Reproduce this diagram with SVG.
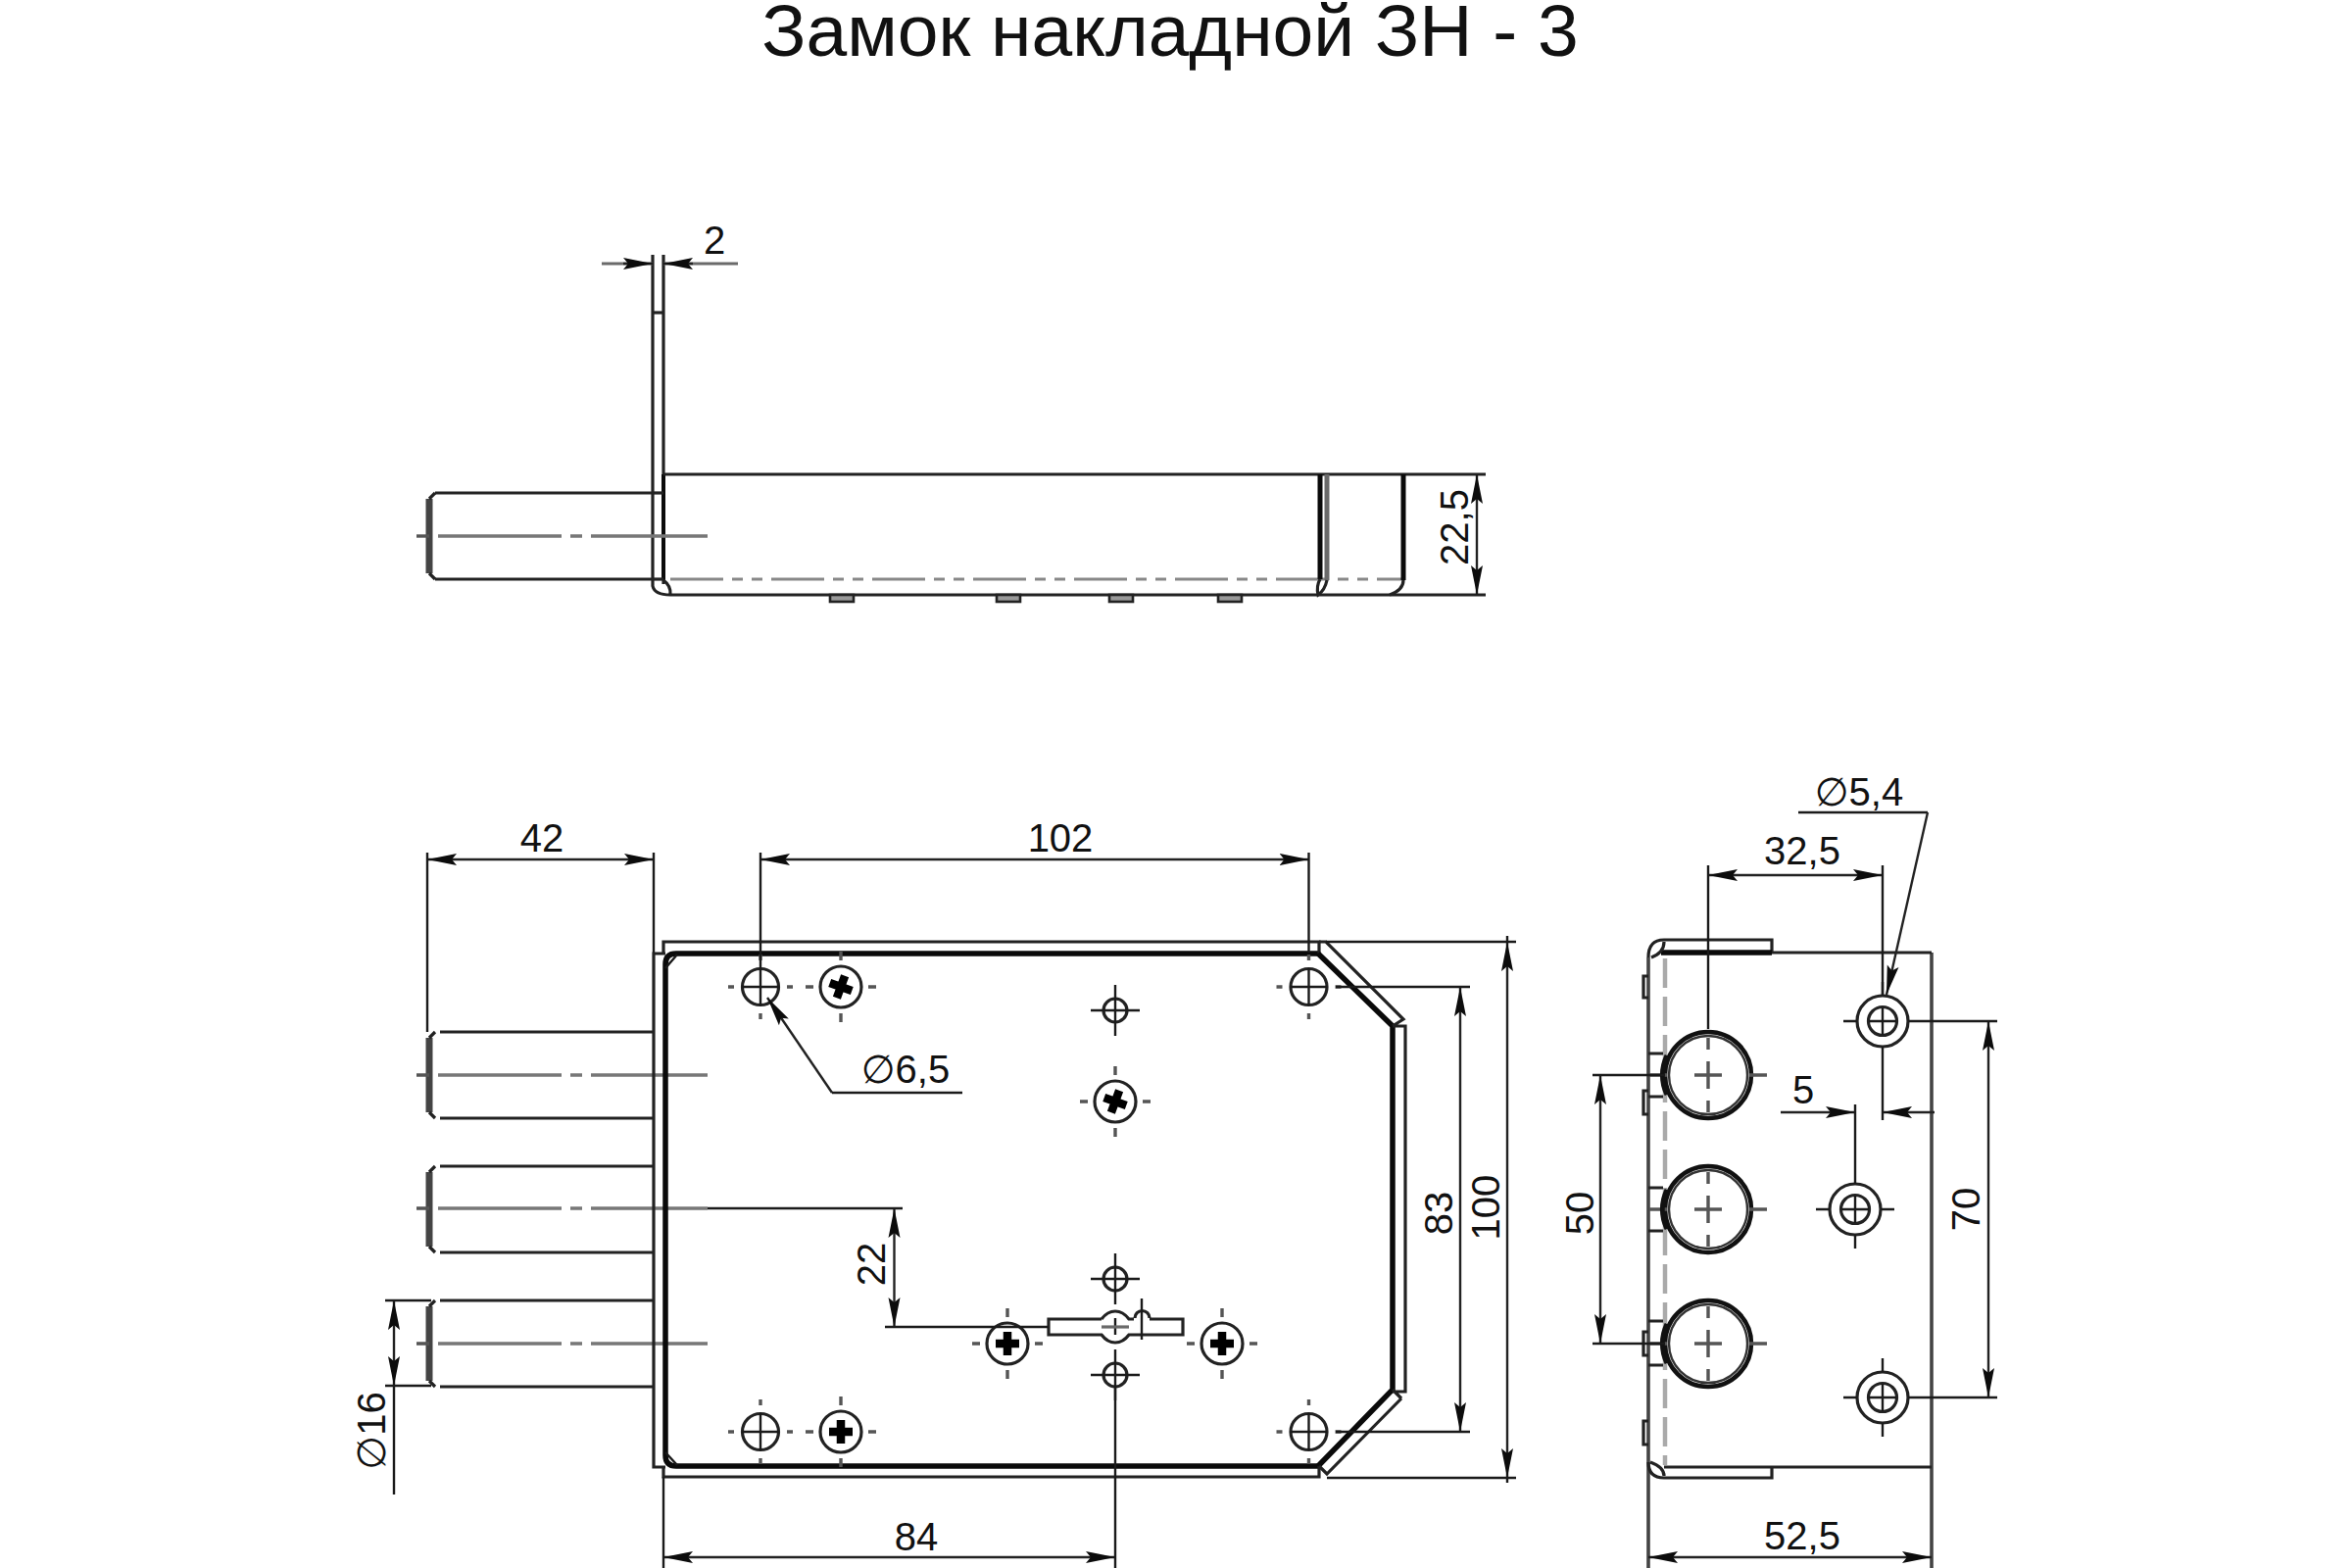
<svg xmlns="http://www.w3.org/2000/svg" width="2400" height="1600" viewBox="0 0 2400 1600">
<style>
text{font-family:"Liberation Sans",Arial,"DejaVu Sans",sans-serif;fill:#111}
.title{font-size:75px;text-anchor:middle}
.d{font-size:40px;text-anchor:middle}
.phi{font-family:"DejaVu Sans",sans-serif;font-weight:normal}
.l{fill:none;stroke:#1a1a1a;stroke-width:2.4}
.m{fill:none;stroke:#222;stroke-width:3.2}
.k{fill:none;stroke:#0a0a0a;stroke-width:5.5}
.g{fill:none;stroke:#6a6a6a;stroke-width:3.2}
.c{fill:none;stroke:#555;stroke-width:3.4}
.cl{fill:none;stroke:#777;stroke-width:3.4;stroke-dasharray:126 9 12 9}
.hd{fill:none;stroke:#888;stroke-width:3;stroke-dasharray:54 9 11 9 11 9}
.vd{fill:none;stroke:#aaa;stroke-width:4.5;stroke-dasharray:30 9}
.dm{fill:none;stroke:#222;stroke-width:2.4;marker-start:url(#as);marker-end:url(#ae)}
.ld{fill:none;stroke:#222;stroke-width:2.4;marker-end:url(#ae)}
.tab{fill:#999;stroke:#222;stroke-width:2.6}
</style>
<defs>
<marker id="ae" markerUnits="userSpaceOnUse" markerWidth="34" markerHeight="16" refX="30" refY="8" orient="auto"><path d="M0,2 L30,8 L0,14 L5,8 Z" fill="#0c0c0c"/></marker>
<marker id="as" markerUnits="userSpaceOnUse" markerWidth="34" markerHeight="16" refX="30" refY="8" orient="auto-start-reverse"><path d="M0,2 L30,8 L0,14 L5,8 Z" fill="#0c0c0c"/></marker>
<g id="ticks"><path class="c" d="M-33,0H-27M27,0H33M0,27V33M0,-33V-27"/></g>
<g id="hole"><circle class="m" r="18.5"/><path class="l" d="M-19,0H19M0,-19V19"/><use href="#ticks"/></g>
<g id="screw"><circle class="m" r="21"/><path class="c" d="M-36,0H-28M28,0H36M0,27V36M0,-36V-27"/></g>
<path id="cross" fill="none" stroke="#000" stroke-width="8.5" d="M-12,0H12M0,-12V12"/>
<g id="hs"><circle class="m" r="12"/><path class="l" d="M-25,0H25M0,-26V26"/></g>
<g id="bush"><circle class="m" r="26"/><circle class="m" r="14.5"/><path class="l" d="M-40,0H-26M26,0H40M0,-40V-26M0,26V40M-14,0H14M0,-14V14"/></g>
<g id="bolt"><circle r="44" fill="none" stroke="#111" stroke-width="4.5"/><circle r="40" fill="none" stroke="#333" stroke-width="2.4"/><path class="c" d="M-14,0H14M0,-14V14M-60,0H-42M42,0H60M0,-38V-26M0,26V38"/><path fill="none" stroke="#111" stroke-width="5" d="M-42,-20A46,46 0 0 0 -42,20"/></g>
<g id="pin"><path class="m" d="M449,0H667"/><path class="m" d="M449,88H667"/><path fill="none" stroke="#444" stroke-width="7" d="M438,6V82"/><path class="m" d="M444,0L438,6M444,88L438,82"/></g>
</defs>

<text class="title" x="1194" y="57">Замок накладной ЗН - 3</text>

<g id="side-view">
<path class="m" d="M666,260V598Q668,607 684,607M677,260V596"/>
<path class="k" d="M677,484V592" style="stroke-width:4"/>
<path class="m" d="M666,319H677"/>
<path class="m" d="M677,484H1516"/>
<path class="m" d="M684,607H1516"/>
<path class="m" d="M677,592Q685,598 684,607"/>
<path class="m" d="M666,503H677"/>
<path class="m" d="M666,591H677"/>
<path class="m" d="M444,503H666M444,591H666"/>
<path fill="none" stroke="#444" stroke-width="7" d="M438,509V585"/>
<path class="m" d="M444,503L438,509M444,591L438,585"/>
<path class="cl" d="M447,547H722"/><path class="c" d="M425,547H438"/>
<path class="hd" d="M684,591H1432"/>
<path class="k" d="M1347,484V591M1432,484V592" style="stroke-width:5"/>
<path class="g" d="M1354,484V592" style="stroke-width:5"/>
<path class="m" d="M1354,592Q1352,602 1345,607H1345Q1343,598 1347,591M1432,592Q1432,602 1418,607"/>
<rect class="tab" x="847" y="607" width="24" height="7"/>
<rect class="tab" x="1017" y="607" width="24" height="7"/>
<rect class="tab" x="1132" y="607" width="24" height="7"/>
<rect class="tab" x="1243" y="607" width="24" height="7"/>
</g>

<g id="front-view">
<use href="#pin" y="1053"/><use href="#pin" y="1190"/><use href="#pin" y="1327"/>
<path class="cl" d="M447,1097H722M447,1233H722M447,1371H722"/>
<path class="c" d="M425,1097H438M425,1233H438M425,1371H438"/>
<path class="m" d="M679,973H667V1497H679"/>
<path class="k" d="M1345,973H690Q679,973 679,984V1485Q679,1496 690,1496H1345"/>
<path class="m" d="M1346,973V961H677V973M1346,1496V1507H677V1497"/>
<path class="l" d="M679,988L691,974M679,1482L691,1495"/>
<path class="k" d="M1345,973L1421,1047V1418L1345,1496"/>
<path class="m" d="M1346,961H1353L1432,1040L1421,1047M1421,1047H1434V1420H1421M1430,1427L1354,1504L1346,1496M1421,1418L1430,1427"/>
<use href="#hole" x="776" y="1007"/><use href="#hole" x="776" y="1461"/>
<use href="#hole" x="1335.5" y="1007"/><use href="#hole" x="1335.5" y="1461"/>
<use href="#screw" x="858" y="1007"/><use href="#cross" transform="translate(858,1007) rotate(20)"/>
<use href="#screw" x="858" y="1461"/><use href="#cross" x="858" y="1461"/>
<use href="#screw" x="1138" y="1124"/><use href="#cross" transform="translate(1138,1124) rotate(20)"/>
<use href="#screw" x="1028" y="1371"/><use href="#cross" x="1028" y="1371"/>
<use href="#screw" x="1247" y="1371"/><use href="#cross" x="1247" y="1371"/>
<use href="#hs" x="1138" y="1031"/><use href="#hs" x="1138" y="1305"/><use href="#hs" x="1138" y="1403"/>
<path class="m" d="M1124,1346H1070V1362H1124Q1130,1370 1138,1370Q1146,1370 1152,1362H1207V1346H1173M1157,1346H1152Q1146,1338 1138,1338Q1130,1338 1124,1346"/>
<path class="m" d="M1158,1345A7.5,7.5 0 0 1 1173,1345"/>
<path class="l" d="M1165,1325V1367M1138,1345V1362"/>
<path class="g" d="M1124,1354H1152"/>
</g>

<g id="end-view">
<path class="m" d="M1682,977V1600M1971,972V1600" style="stroke:#444;stroke-width:3.6"/>
<path class="m" d="M1682,977Q1682,959 1698,959H1808V972"/>
<path class="k" d="M1695,972H1808"/><path class="m" d="M1808,972H1971"/>
<path class="m" d="M1698,961Q1698,972 1685,977"/>
<path class="m" d="M1682,1492Q1682,1508 1698,1508H1808V1497"/><path class="m" d="M1698,1497H1971"/>
<path class="m" d="M1698,1506Q1698,1497 1684,1492"/>
<path class="vd" d="M1699,978V1495"/>
<path class="m" d="M1682,996H1677V1018H1682M1682,1113H1677V1137H1682M1682,1359H1677V1383H1682M1682,1450H1677V1474H1682"/>
<path class="m" d="M1682,1075H1697M1682,1119H1697M1682,1212H1697M1682,1256H1697M1682,1348H1697M1682,1393H1697"/>
<use href="#bolt" x="1743" y="1097"/><use href="#bolt" x="1743" y="1234"/><use href="#bolt" x="1743" y="1371"/>
<use href="#bush" x="1921" y="1042"/><use href="#bush" x="1893" y="1234"/><use href="#bush" x="1921" y="1426"/>
</g>

<g id="dimensions">
<path class="g" d="M614,269H666M677,269H753"/>
<path class="ld" d="M636,269H666"/><path class="ld" d="M707,269H677"/>
<path class="dm" d="M1507,484V607"/>
<path class="dm" d="M436,877H667"/>
<path class="dm" d="M776,877H1335.5"/>
<path class="l" d="M436,870V1053M667,870V972M776,870V988M1335.5,870V972"/>
<path class="ld" d="M849,1115L783,1018"/><path class="l" d="M849,1115H982"/>
<path class="dm" d="M912.5,1233V1354"/>
<path class="l" d="M722,1233H921M903,1354H1070"/>
<path class="dm" d="M402,1327V1414"/>
<path class="l" d="M393,1327H440M393,1414H440M402,1414V1525"/>
<path class="dm" d="M677,1589H1138"/>
<path class="l" d="M677,1507V1600M1138,1415V1600"/>
<path class="dm" d="M1538,961V1508"/>
<path class="l" d="M1353,961H1547M1354,1508H1547M1538,955V961M1538,1508V1513"/>
<path class="dm" d="M1490,1007V1461"/>
<path class="l" d="M1363,1007H1500M1363,1461H1500"/>
<path class="dm" d="M1633,1097V1371"/>
<path class="l" d="M1625,1097H1699M1625,1371H1699"/>
<path class="dm" d="M1743,893H1921"/>
<path class="l" d="M1743,883V1050M1921,883V1016"/>
<path class="l" d="M1835,829H1967"/><path class="ld" d="M1967,829L1925,1015"/>
<path class="ld" d="M1817,1135H1893"/><path class="ld" d="M1974,1135H1921"/>
<path class="l" d="M1893,1127V1194M1921,1082V1143"/>
<path class="dm" d="M2029,1042V1426"/>
<path class="l" d="M1961,1042H2038M1961,1426H2038"/>
<path class="dm" d="M1682,1589H1971"/>
<text class="d" x="729" y="259">2</text>
<text class="d" transform="translate(1498,538) rotate(-90)">22,5</text>
<text class="d" x="553" y="869">42</text>
<text class="d" x="1082" y="869">102</text>
<text class="d" x="924" y="1105"><tspan class="phi">∅</tspan>6,5</text>
<text class="d" transform="translate(903,1290) rotate(-90)">22</text>
<text class="d" transform="translate(393,1460) rotate(-90)"><tspan class="phi">∅</tspan>16</text>
<text class="d" x="935" y="1582">84</text>
<text class="d" transform="translate(1482,1238) rotate(-90)">83</text>
<text class="d" transform="translate(1530,1232) rotate(-90)">100</text>
<text class="d" transform="translate(1626,1238) rotate(-90)">50</text>
<text class="d" x="1897" y="822"><tspan class="phi">∅</tspan>5,4</text>
<text class="d" x="1839" y="882">32,5</text>
<text class="d" x="1840" y="1126">5</text>
<text class="d" transform="translate(2020,1234) rotate(-90)">70</text>
<text class="d" x="1839" y="1581">52,5</text>
</g>
</svg>
